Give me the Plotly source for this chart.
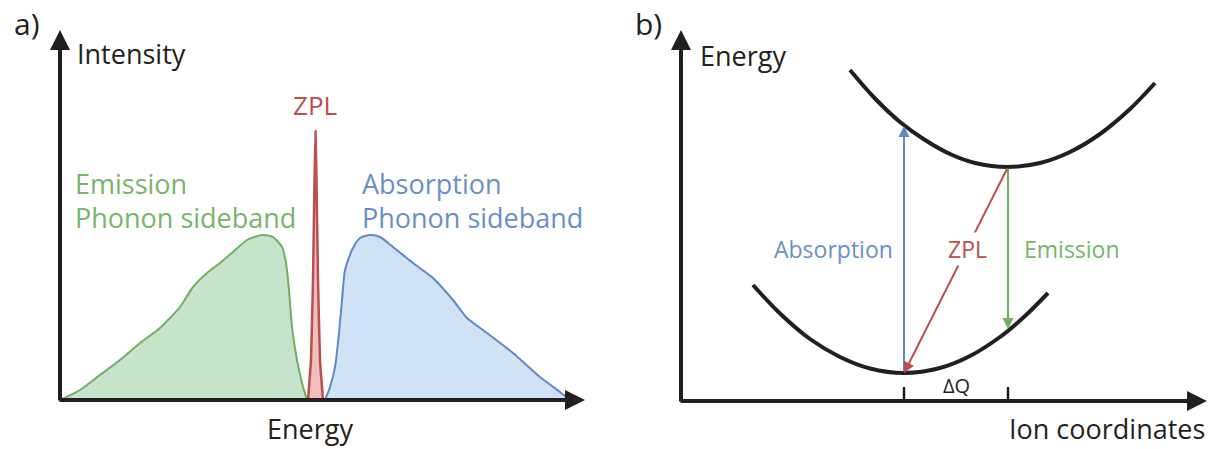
import plotly.graph_objects as go

# ---------------- Panel a: spectra (x = energy, y = intensity, arbitrary units)
emis_x = [0, 20, 40, 60, 80, 100, 110, 120, 133, 147, 160, 173, 187, 202, 213, 222, 226, 229, 232, 237, 242, 247]
emis_y = [0, 10, 25, 40, 57, 72, 82, 93, 113, 127, 137, 148, 160, 165, 163, 153, 137, 110, 73, 40, 17, 0]

abs_x = [265, 270, 275, 279, 282, 285, 292, 300, 310, 320, 333, 353, 373, 393, 407, 427, 453, 480, 500, 510]
abs_y = [0, 13, 33, 67, 100, 130, 150, 162, 165, 163, 153, 137, 122, 100, 82, 67, 47, 23, 8, 0]

zpl_x = [248, 251, 253, 254.5, 255.5, 256.5, 258, 260, 263]
zpl_y = [0, 40, 120, 220, 269, 220, 120, 40, 0]

# ---------------- Panel b: configuration-coordinate diagram
upper_x = [169, 194, 219, 244, 269, 294, 327, 359, 389, 419, 449, 474]
upper_y = [331, 302.5, 279, 261, 247, 238, 234, 238, 249, 267, 292, 318]

lower_x = [72, 99, 129, 159, 189, 223, 259, 289, 319, 344, 367]
lower_y = [116, 87.5, 62, 44, 32.5, 28, 33, 45, 64, 85, 108]

q_ground = 223      # ground-state minimum coordinate
q_excited = 327     # excited-state minimum coordinate
e_ground_min = 28
e_excited_min = 234
e_abs_top = 275     # absorption lands on upper curve
e_emis_bottom = 72  # emission lands on lower curve
tick_len = 14

GREEN_L = "#6fb05f"
GREEN_F = "rgba(160,210,170,0.6)"
GREEN_T = "#76b56a"
BLUE_L = "#5f88c4"
BLUE_F = "rgba(176,206,238,0.6)"
BLUE_T = "#6a8fc7"
RED_L = "#b8504f"
RED_F = "#f5bdbb"
BLACK = "#231f20"
FONT = "Open Sans"

fig = go.Figure()

fig.add_trace(go.Scatter(x=emis_x, y=emis_y, mode="lines", line=dict(color=GREEN_L, width=2, shape="spline", smoothing=0.6),
                         fill="toself", fillcolor=GREEN_F, xaxis="x", yaxis="y", hoverinfo="skip"))
fig.add_trace(go.Scatter(x=abs_x, y=abs_y, mode="lines", line=dict(color=BLUE_L, width=2, shape="spline", smoothing=0.6),
                         fill="toself", fillcolor=BLUE_F, xaxis="x", yaxis="y", hoverinfo="skip"))
fig.add_trace(go.Scatter(x=zpl_x, y=zpl_y, mode="lines", line=dict(color=RED_L, width=2.5, shape="spline", smoothing=0.3),
                         fill="toself", fillcolor=RED_F, xaxis="x", yaxis="y", hoverinfo="skip"))

fig.add_trace(go.Scatter(x=upper_x, y=upper_y, mode="lines", line=dict(color=BLACK, width=4, shape="spline"),
                         xaxis="x2", yaxis="y2", hoverinfo="skip"))
fig.add_trace(go.Scatter(x=lower_x, y=lower_y, mode="lines", line=dict(color=BLACK, width=4, shape="spline"),
                         xaxis="x2", yaxis="y2", hoverinfo="skip"))
fig.add_trace(go.Scatter(x=[q_ground, q_ground, None, q_excited, q_excited], y=[0, tick_len, None, 0, tick_len],
                         mode="lines", line=dict(color=BLACK, width=2.5), xaxis="x2", yaxis="y2", hoverinfo="skip"))

ann = []

def arrow(xr, yr, x0, y0, x1, y1, color, width, size, head=2):
    ann.append(dict(xref=xr, yref=yr, axref=xr, ayref=yr, x=x1, y=y1, ax=x0, ay=y0,
                    showarrow=True, arrowhead=head, arrowsize=size, arrowwidth=width,
                    arrowcolor=color, text="", standoff=0, startstandoff=0))

def label(xr, yr, x, y, text, color, size, xanchor="center", bg=None):
    d = dict(xref=xr, yref=yr, x=x, y=y, text=text, showarrow=False, xanchor=xanchor, yanchor="middle",
             font=dict(family=FONT, size=size, color=color))
    if bg:
        d["bgcolor"] = bg
        d["borderpad"] = 0
    ann.append(d)

# axes panel a
arrow("x", "y", 0, -2, 0, 370, BLACK, 4, 1.0)
arrow("x", "y", -2, 0, 525, 0, BLACK, 4, 1.0)
# axes panel b
arrow("x2", "y2", 0, -2, 0, 371, BLACK, 4, 1.0)
arrow("x2", "y2", -2, 0, 526, 0, BLACK, 4, 1.0)

# transitions panel b
arrow("x2", "y2", q_ground, e_ground_min, q_ground, e_abs_top, BLUE_L, 2, 1.1)
arrow("x2", "y2", q_excited, e_excited_min, q_excited, e_emis_bottom, GREEN_L, 2, 1.1)
arrow("x2", "y2", q_excited, e_excited_min, q_ground, e_ground_min, RED_L, 2, 1.1)

# labels panel a
label("x", "y", -48, 377, "a)", BLACK, 30, "left")
label("x", "y", 15, 347, "Intensity", BLACK, 27, "left")
label("x", "y", 250, -28, "Energy", BLACK, 27)
label("x", "y", 255, 295, "ZPL", RED_L, 26)
label("x", "y", 13, 217, "Emission", GREEN_T, 27, "left")
label("x", "y", 13, 183, "Phonon sideband", GREEN_T, 27, "left")
label("x", "y", 300, 217, "Absorption", BLUE_T, 27, "left")
label("x", "y", 300, 183, "Phonon sideband", BLUE_T, 27, "left")

# labels panel b
label("x2", "y2", -48, 378, "b)", BLACK, 30, "left")
label("x2", "y2", 17, 346, "Energy", BLACK, 27, "left")
label("x2", "y2", 214, 152, "Absorption", BLUE_T, 23, "right")
label("x2", "y2", 286, 152, "ZPL", RED_L, 23, bg="white")
label("x2", "y2", 341, 152, "Emission", GREEN_T, 23, "left")
label("x2", "y2", 275, 16, "ΔQ", BLACK, 20)
label("x2", "y2", 526, -27, "Ion coordinates", BLACK, 27, "right")

noax = dict(visible=False, fixedrange=True)
fig.update_layout(
    width=1217, height=449, margin=dict(l=0, r=0, t=0, b=0),
    paper_bgcolor="white", plot_bgcolor="white", showlegend=False,
    xaxis=dict(domain=[0, 600 / 1217], range=[-60, 540], **noax),
    yaxis=dict(domain=[0, 1], range=[-49, 400], **noax),
    xaxis2=dict(domain=[600 / 1217, 1], range=[-81, 536], anchor="y2", **noax),
    yaxis2=dict(domain=[0, 1], range=[-48, 401], anchor="x2", **noax),
    annotations=ann,
)

fig.write_html("out.html", config={"displayModeBar": False},
               post_script="document.body.style.margin='0';document.body.style.overflow='hidden';")
